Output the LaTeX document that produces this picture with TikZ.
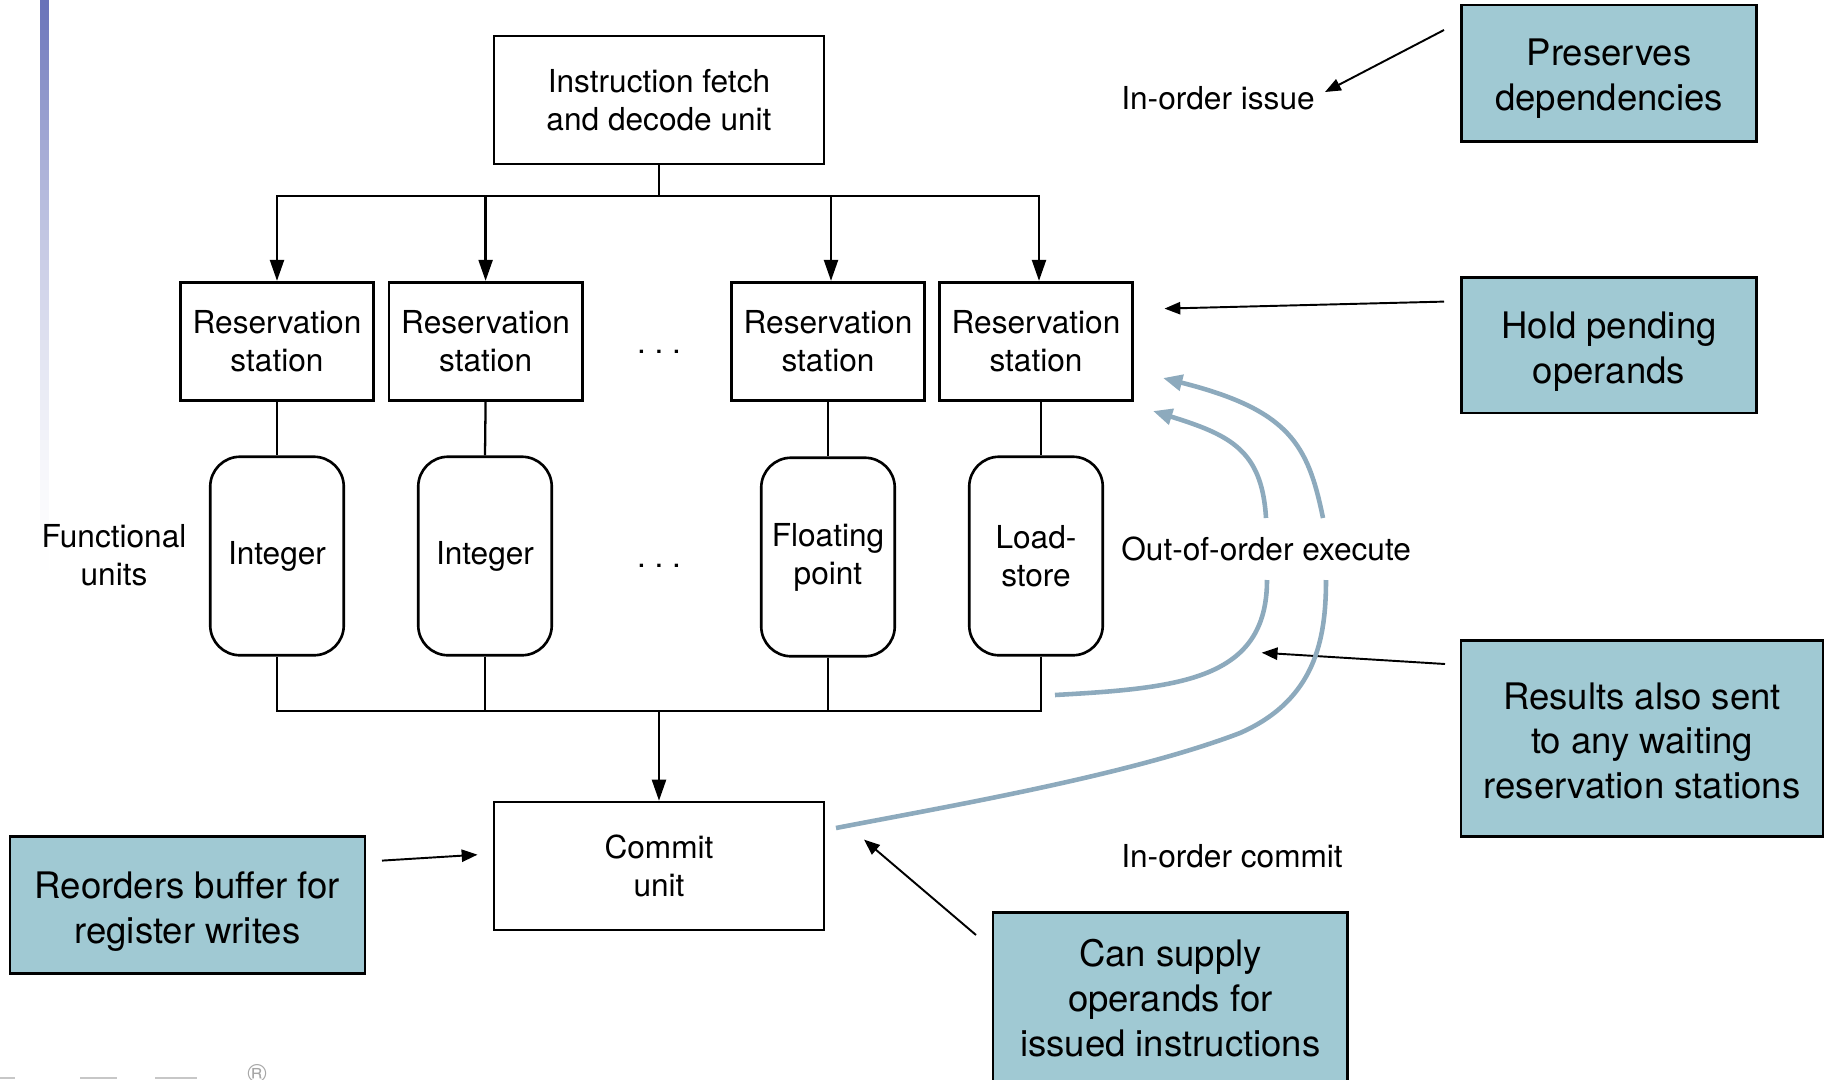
\documentclass[tikz,border=0pt]{standalone}
\usepackage{fontspec}
\setmainfont{TeX Gyre Heros}
\usetikzlibrary{arrows.meta,calc}
\definecolor{boxblue}{RGB}{160,201,211}
\definecolor{curveblue}{RGB}{141,170,189}
\definecolor{barblue}{RGB}{102,112,184}
\begin{document}
\begin{tikzpicture}[x=0.02cm,y=-0.02cm,
  every node/.style={font=\fontsize{18}{21.6}\selectfont, align=center},
  unit/.style={draw, line width=1.5pt, inner sep=0pt},
  fu/.style={unit, rounded corners=17pt, minimum width=76pt, minimum height=113pt},
  rs/.style={unit, minimum width=110pt, minimum height=67.3pt},
  big/.style={unit, minimum width=187.8pt, minimum height=72.8pt},
  note/.style={draw, line width=1.5pt, fill=boxblue, inner sep=0pt},
  notetext/.style={inner sep=0pt, font=\fontsize{20.8}{25.5}\selectfont},
  lbl/.style={inner sep=0pt},
  conn/.style={line width=1.3pt},
  arr/.style={conn, -{Triangle[length=12pt,width=8pt]}},
  thinarr/.style={line width=1.1pt, -{Triangle[length=9pt,width=7pt]}},
  fb/.style={line width=2.6pt, curveblue},
  fbarr/.style={fb, -{Triangle[length=11pt,width=9pt]}}
]
\useasboundingbox (0,0) rectangle (1826,1079);
\fill[white] (0,0) rectangle (1826,1079);
\clip (0,0) rectangle (1826,1079);

% left gradient bar
\foreach \i in {0,...,58} {
  \pgfmathsetmacro{\f}{100*(1-(\i+0.5)/59)^1.8}
  \fill[barblue!\f!white] (40,\i*10) rectangle (49,\i*10+10.5);
}
% footer fragments
\fill[black!22] (0,1077) rectangle (15,1079);
\fill[black!22] (80,1077) rectangle (117,1079);
\fill[black!22] (155,1077) rectangle (197,1079);
\node[lbl, text=black!35, font=\fontsize{15}{15}\selectfont] (reg) at (257,1074) {®};

% main units
\node[big] (ifd) at (659,100) {Instruction fetch\\and decode unit};
\node[rs] (rs1) at (277,341.3) {Reservation\\station};
\node[rs] (rs2) at (485.6,341.3) {Reservation\\station};
\node[rs] (rs3) at (828,341.3) {Reservation\\station};
\node[rs] (rs4) at (1036,341.3) {Reservation\\station};
\node[lbl] (dots1) at (659,352) {.\ .\ .};

\node[fu] (fu1) at (277,556) {\raisebox{-1pt}{Integer}};
\node[fu] (fu2) at (485,556) {\raisebox{-1pt}{Integer}};
\node[fu] (fu3) at (828,557) {Floating\\point};
\node[fu] (fu4) at (1036,556) {Load-\\store};
\node[lbl] (dots2) at (659,566) {.\ .\ .};

\node[big] (commit) at (659,866) {Commit\\unit};

% labels
\node[lbl] (fulabel) at (114,555) {Functional\\units};
\node[lbl, anchor=west] (issue) at (1121,98) {In-order issue};
\node[lbl, anchor=west] (ooo) at (1121,549) {Out-of-order execute};
\node[lbl, anchor=west] (commitlbl) at (1121,856) {In-order commit};

% note boxes
\node[note, minimum width=168pt, minimum height=77.6pt] (n1) at (1609,73.3) {};
\node[notetext] (n1t) at ($(n1.center)+(0,5)$) {Preserves\\dependencies};
\node[note, minimum width=168pt, minimum height=77.2pt] (n2) at (1609,345) {};
\node[notetext] (n2t) at ($(n2.center)+(0,6.5)$) {Hold pending\\operands};
\node[note, minimum width=206pt, minimum height=111.7pt] (n3) at (1642,738.3) {};
\node[notetext] (n3t) at ($(n3.center)+(0,2.5)$) {Results also sent\\to any waiting\\reservation stations};
\node[note, minimum width=202pt, minimum height=78pt] (n4) at (187.4,904.7) {};
\node[notetext] (n4t) at ($(n4.center)+(0,7)$) {Reorders buffer for\\register writes};
\node[note, minimum width=202pt, minimum height=97pt] (n5) at (1170.3,997.6) {};
\node[notetext] (n5t) at ($(n5.center)+(0,0.5)$) {Can supply\\operands for\\issued instructions};

% column lines
\coordinate (k3) at (831,0);
\coordinate (k4) at (1039,0);
\coordinate (k4b) at (1041,0);

% issue bus
\coordinate (busT) at (659,196);
\draw[conn] (ifd.south) -- (busT);
\draw[arr] (busT) -| (rs1.north);
\draw[arr] (busT) -| (rs2.north);
\draw[arr] (busT) -| (rs3.north -| k3);
\draw[arr] (busT) -| (rs4.north -| k4);

% RS to FU
\draw[conn] (rs1.south) -- (fu1.north);
\draw[conn] (rs2.south) -- (fu2.north);
\draw[conn] (rs3.south) -- (fu3.north);
\draw[conn] (rs4.south -| k4b) -- (fu4.north -| k4b);

% result bus
\coordinate (busB) at (659,711);
\draw[conn] (fu1.south) |- (busB);
\draw[conn] (fu4.south -| k4b) |- (busB);
\draw[conn] (fu2.south) -- (fu2.south |- busB);
\draw[conn] (fu3.south) -- (fu3.south |- busB);
\draw[arr] (busB) -- (commit.north);

% annotation arrows
\coordinate (a1s) at (1444,30);   \coordinate (a1e) at (1325,92);
\coordinate (a2s) at (1444,301.6); \coordinate (a2e) at (1164.5,308.6);
\coordinate (a3s) at (1445,664);  \coordinate (a3e) at (1261.7,652.7);
\coordinate (a4s) at (382,860.6); \coordinate (a4e) at (477.5,854.7);
\coordinate (a5s) at (976,935);   \coordinate (a5e) at (864,839.6);
\draw[thinarr] (a1s) -- (a1e);
\draw[thinarr] (a2s) -- (a2e);
\draw[thinarr] (a3s) -- (a3e);
\draw[thinarr] (a4s) -- (a4e);
\draw[thinarr] (a5s) -- (a5e);

% forwarding curves
\coordinate (c1s) at (1055,695);
\coordinate (c1m) at (1267,580);
\coordinate (c1n) at (1266,518);
\coordinate (c1e) at (1153,411);
\draw[fb] (c1s) .. controls (1180,688) and (1267,680) .. (c1m);
\draw[fbarr] (c1n) .. controls (1262,450) and (1230,435) .. (c1e);

\coordinate (c2s) at (836,828);
\coordinate (c2k) at (1240,733);
\coordinate (c2m) at (1326,580);
\coordinate (c2n) at (1323,518);
\coordinate (c2e) at (1163,378);
\draw[fb] (c2s) .. controls (950,806) and (1130,775) .. (c2k) .. controls (1315,700) and (1326,640) .. (c2m);
\draw[fbarr] (c2n) .. controls (1308,445) and (1290,410) .. (c2e);
\end{tikzpicture}
\end{document}
